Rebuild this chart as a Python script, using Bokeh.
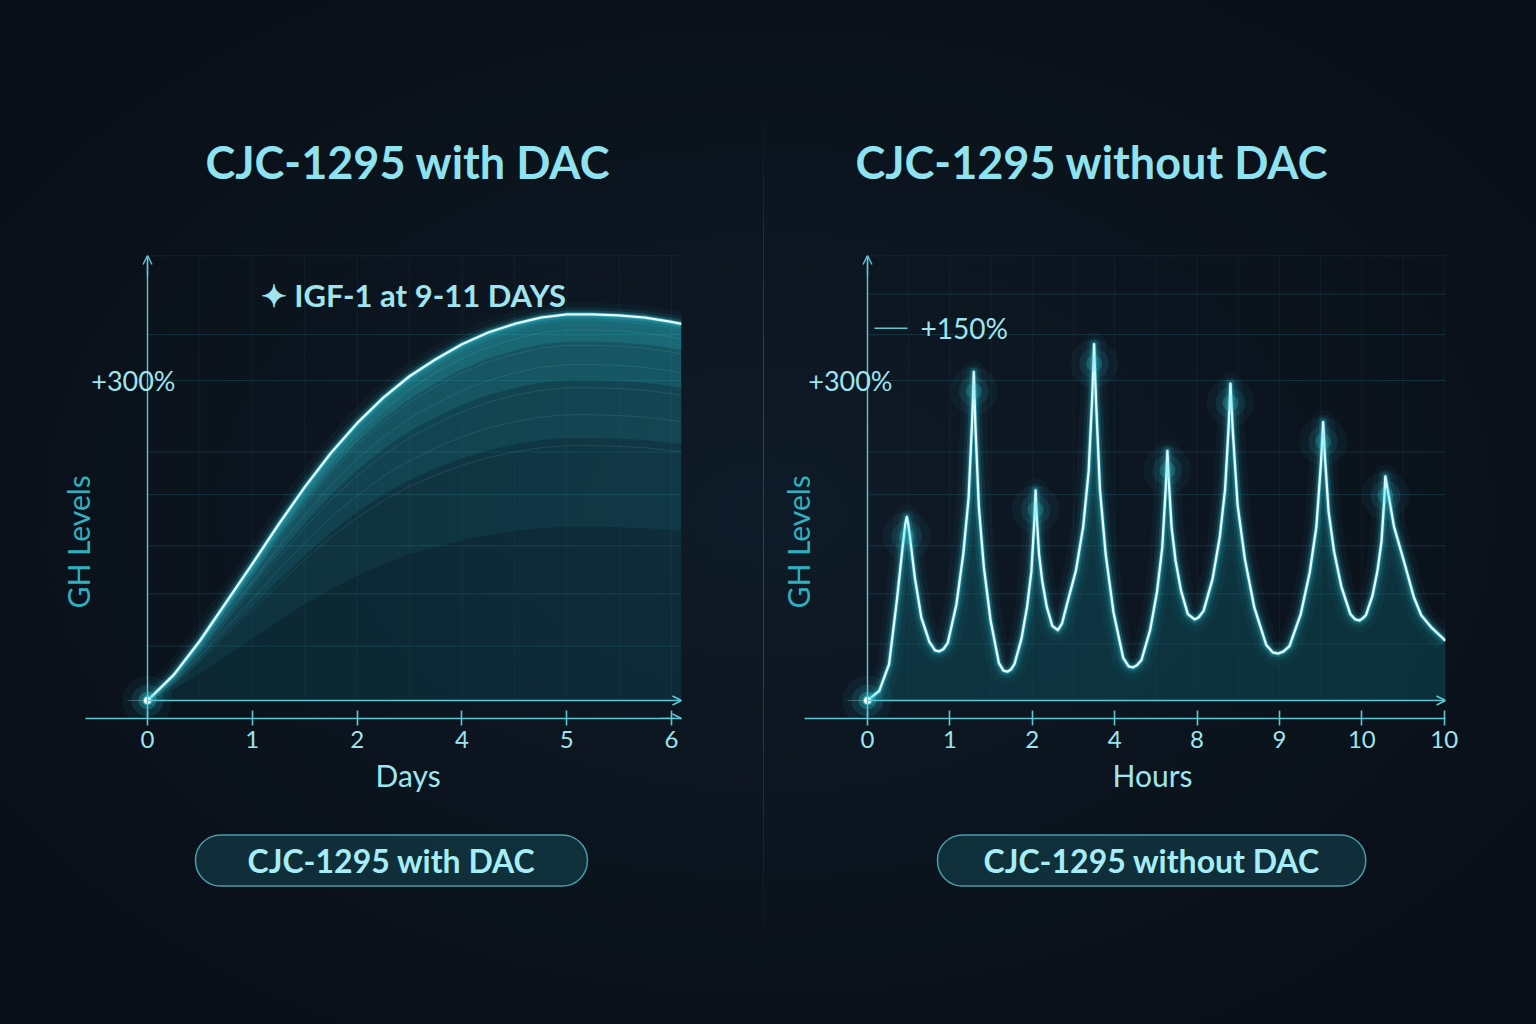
from bokeh.plotting import figure
from bokeh.models import FixedTicker, Arrow, OpenHead, Range1d, Div, Title
from bokeh.layouts import row
from bokeh.core.properties import value
from bokeh.embed import file_html
from bokeh.resources import INLINE

# ---------------- data ----------------
# Left panel: CJC-1295 with DAC (x in tick-slot units, y in % GH rise)
dac_tick_labels = ["0", "1", "2", "4", "5", "6"]
dac_x = [0, 0.25, 0.5, 0.75, 1.0, 1.25, 1.5, 1.75, 2.0, 2.25, 2.5, 2.75,
         3.0, 3.25, 3.5, 3.75, 4.0, 4.25, 4.5, 4.75, 5.0, 5.095]
dac_y = [0, 24, 56, 92, 128, 165, 200, 232, 260, 284, 304, 320,
         334, 345, 353, 359, 362, 362, 361, 359, 355, 353]

# Right panel: CJC-1295 without DAC (pulsatile)
nodac_tick_labels = ["0", "1", "2", "4", "8", "9", "10", "10"]
nodac_x = [0,
           0.143, 0.262, 0.358, 0.429, 0.458, 0.477,
           0.493, 0.516, 0.575, 0.653, 0.751, 0.82, 0.868,
           0.92, 0.974, 1.079, 1.163, 1.227, 1.269, 1.29,
           1.31, 1.351, 1.412, 1.494, 1.595, 1.65, 1.697,
           1.74, 1.783, 1.869, 1.937, 1.989, 2.023, 2.04,
           2.054, 2.081, 2.121, 2.175, 2.243, 2.31,
           2.36, 2.42, 2.53, 2.618, 2.684, 2.728, 2.75,
           2.774, 2.821, 2.891, 2.985, 3.103, 3.17, 3.22,
           3.27, 3.325, 3.43, 3.514, 3.577, 3.619, 3.64,
           3.657, 3.69, 3.739, 3.805, 3.888, 3.97,
           4.02, 4.079, 4.188, 4.275, 4.34, 4.383, 4.405,
           4.434, 4.492, 4.579, 4.695, 4.84, 4.92, 4.985,
           5.05, 5.121, 5.258, 5.367, 5.448, 5.503, 5.53,
           5.552, 5.596, 5.662, 5.75, 5.86, 5.92, 5.97,
           6.01, 6.049, 6.128, 6.19, 6.238, 6.27, 6.285,
           6.33, 6.39, 6.52, 6.63, 6.72, 6.85, 7.015]
nodac_y = [0,
           9, 34, 95, 146, 165, 172,
           166, 153, 115, 78, 55, 47, 46,
           48, 54, 90, 138, 190, 261, 308,
           257, 182, 125, 75, 35, 28, 27,
           29, 34, 58, 88, 121, 166, 197,
           173, 138, 112, 88, 70, 66,
           72, 90, 122, 163, 215, 286, 334,
           280, 198, 137, 83, 40, 32, 31,
           33, 38, 66, 102, 143, 198, 234,
           206, 163, 131, 103, 81, 76,
           78, 84, 114, 153, 198, 257, 297,
           252, 183, 133, 87, 52, 45, 44,
           46, 51, 81, 120, 163, 222, 261,
           228, 177, 140, 107, 81, 76, 75,
           77, 80, 98, 122, 149, 186, 210,
           190, 163, 128, 97, 80, 68, 56]

y_ticks = [300]
y_tick_labels = ["+300%"]
grid_levels = [51, 100, 145, 193, 233, 300, 343, 417]
grid_levels_right = [53, 100, 145, 193, 233, 300, 343, 381, 417]

# ---------------- style ----------------
FONT = "Lato"
AXIS = "#5fc6d3"
TICK_TXT = "#9fe4ef"
TITLE_TXT = "#8fe2ef"
LABEL_TXT = "#2fb0bf"
GRID = "#1d4c57"
LINE_CORE = "#e4fcff"
GLOW = "#35d3e2"
Y_START, Y_END = -16.9, 417.2


def panel(width, x_start, x_end, min_left, min_right, title, title_offset,
          xlabel, xlabel_offset, tick_labels, label_standoff, grid_y, ylabel_standoff,
          pill_text, pill_offset, pill_pad):
    p = figure(width=width, height=1024,
               x_range=Range1d(x_start, x_end), y_range=Range1d(Y_START, Y_END),
               output_backend="svg", toolbar_location=None,
               min_border_left=min_left, min_border_right=min_right,
               min_border_top=255, min_border_bottom=306)
    p.background_fill_alpha = 0
    p.border_fill_alpha = 0
    p.outline_line_color = None
    p.xgrid.visible = False
    p.ygrid.visible = False

    p.title.text = title
    p.title.align = "left"
    p.title.offset = title_offset
    p.title.text_font = FONT
    p.title.text_font_style = "bold"
    p.title.text_font_size = "45px"
    p.title.text_color = TITLE_TXT
    p.title.standoff = 134

    xa = p.xaxis[0]
    xa.ticker = FixedTicker(ticks=list(range(len(tick_labels))))
    xa.major_label_overrides = {i: t for i, t in enumerate(tick_labels)}
    xa.axis_line_color = AXIS
    xa.axis_line_width = 1.6
    xa.major_tick_line_color = AXIS
    xa.major_tick_line_width = 1.6
    xa.major_tick_in = 8
    xa.major_tick_out = 7
    xa.minor_tick_line_color = None
    xa.major_label_text_font = FONT
    xa.major_label_text_font_size = "24px"
    xa.major_label_text_color = TICK_TXT
    xa.major_label_standoff = 5

    # x-axis caption (positioned under the tick labels)
    xlab = Title(text=xlabel, align="left", offset=xlabel_offset, standoff=8,
                 text_font=FONT, text_font_style="normal", text_font_size="30px",
                 text_color=TICK_TXT)
    p.add_layout(xlab, "below")

    ya = p.yaxis[0]
    ya.fixed_location = 0
    ya.ticker = FixedTicker(ticks=y_ticks)
    ya.major_label_overrides = dict(zip(y_ticks, y_tick_labels))
    ya.axis_line_color = AXIS
    ya.axis_line_width = 1.4
    ya.major_tick_in = 0
    ya.major_tick_out = 0
    ya.minor_tick_line_color = None
    ya.major_label_text_font = FONT
    ya.major_label_text_font_size = "27px"
    ya.major_label_text_color = TICK_TXT
    ya.major_label_standoff = label_standoff

    # y-axis caption, placed along the left edge
    ylab = Title(text="GH Levels", align="left", offset=110, standoff=ylabel_standoff,
                 text_font=FONT, text_font_style="normal", text_font_size="30px",
                 text_color=LABEL_TXT)
    p.add_layout(ylab, "left")

    # pill caption under the chart
    pill = Title(text=pill_text, align="left", offset=pill_offset, standoff=73,
                 text_font=FONT, text_font_style="bold", text_font_size="32px",
                 text_color="#a6edf7", background_fill_color="#10303c",
                 background_fill_alpha=0.95, border_line_color="#4b9aa8",
                 border_line_width=1.5, border_radius=25,
                 padding=dict(left=pill_pad, right=pill_pad, top=6, bottom=6))
    p.add_layout(pill, "below")

    n = len(grid_y)
    p.segment(x0=[0] * n, y0=grid_y, x1=[x_end] * n, y1=grid_y,
              line_color=GRID, line_width=1, line_alpha=0.55)
    vx = [i * 0.5 for i in range(1, int(x_end * 2) + 1)]
    p.segment(x0=vx, y0=[0] * len(vx), x1=vx, y1=[Y_END] * len(vx),
              line_color=GRID, line_width=1, line_alpha=0.22)

    p.add_layout(Arrow(end=OpenHead(size=9, line_color=AXIS, line_width=1.6),
                       x_start=0, y_start=0, x_end=x_end, y_end=0,
                       line_color=AXIS, line_width=1.6))
    p.add_layout(Arrow(end=OpenHead(size=9, line_color=AXIS, line_width=1.4),
                       x_start=0, y_start=Y_END - 20, x_end=0, y_end=Y_END,
                       line_color=AXIS, line_width=1.4))
    return p


def glow_line(p, xs, ys):
    for w, a in [(24, 0.04), (14, 0.08), (8, 0.18), (4, 0.45)]:
        p.line(xs, ys, line_color=GLOW, line_width=w, line_alpha=a, line_join="round")
    p.line(xs, ys, line_color=LINE_CORE, line_width=2.3, line_join="round")


def origin_glow(p):
    for s, a in [(50, 0.06), (32, 0.12), (18, 0.28), (10, 0.6)]:
        p.scatter([0], [0], size=s, fill_color=GLOW, fill_alpha=a, line_color=None)
    p.scatter([0], [0], marker="cross", size=40, line_color="#c9f8ff", line_alpha=0.3, line_width=1)
    p.scatter([0], [0], size=7, fill_color="white", line_color=None)


# ---------------- left panel ----------------
left = panel(763, -0.5916, 5.095, 85, 82, "CJC-1295 with DAC", 120,
             "Days", 290, dac_tick_labels, -28, grid_levels, -20,
             "CJC-1295 with DAC", 110, 52)
left.varea(x=dac_x, y1=[0] * len(dac_x), y2=dac_y, fill_color="#0f7886", fill_alpha=0.2)
for k, a in [(0.45, 0.08), (0.68, 0.11), (0.83, 0.14), (0.93, 0.18)]:
    left.varea(x=dac_x, y1=[v * k for v in dac_y], y2=dac_y, fill_color="#2fc2cf", fill_alpha=a)
contours = [0.96, 0.92, 0.87, 0.81, 0.74, 0.66]
left.multi_line(xs=[dac_x] * len(contours), ys=[[v * k for v in dac_y] for k in contours],
                line_color="#8ee9f2", line_alpha=0.12, line_width=1)
glow_line(left, dac_x, dac_y)
origin_glow(left)
left.add_layout(Arrow(end=OpenHead(size=9, line_color=AXIS, line_width=1.6),
                      x_start=4.9, y_start=Y_START, x_end=5.095, y_end=Y_START,
                      line_color=AXIS, line_width=1.6))
left.text(x=[1.08], y=[380.6], text=["\u2726 IGF-1 at 9-11 DAYS"], text_font=value(FONT),
          text_font_style="bold", text_font_size="31px", text_color=TICK_TXT,
          text_align="left", text_baseline="middle")

# ---------------- right panel ----------------
right = panel(772, -0.7646, 7.015, 40, 91, "CJC-1295 without DAC", 51,
              "Hours", 308, nodac_tick_labels, -25, grid_levels_right, -22,
              "CJC-1295 without DAC", 133, 46)
right.varea(x=nodac_x, y1=[0] * len(nodac_x), y2=nodac_y, fill_color="#0f5e69", fill_alpha=0.42)
glow_line(right, nodac_x, nodac_y)
peaks_x = [nodac_x[i] for i in range(1, len(nodac_y) - 1)
           if nodac_y[i] > nodac_y[i - 1] and nodac_y[i] > nodac_y[i + 1]]
peaks_y = [nodac_y[i] for i in range(1, len(nodac_y) - 1)
           if nodac_y[i] > nodac_y[i - 1] and nodac_y[i] > nodac_y[i + 1]]
for s, a in [(48, 0.05), (30, 0.09), (16, 0.2)]:
    right.scatter(peaks_x, [v - 18 for v in peaks_y], size=s, fill_color=GLOW, fill_alpha=a, line_color=None)
origin_glow(right)
right.segment(x0=[0.085], y0=[349], x1=[0.485], y1=[349], line_color=AXIS, line_width=1.5)
right.text(x=[0.643], y=[349], text=["+150%"], text_font=value(FONT),
           text_font_size="28px", text_color=TICK_TXT, text_align="left", text_baseline="middle")

divider = Div(text="", width=1, height=1024, margin=(0, 0, 0, 0),
              styles={"background": "linear-gradient(to bottom, rgba(60,80,100,0) 10%, "
                                    "#2c3e52 35%, #2c3e52 65%, rgba(60,80,100,0) 93%)"})

page = row(left, divider, right, spacing=0,
           styles={"background": "radial-gradient(ellipse at 50% 50%, #0f1b28 0%, #0b131d 55%, #080d16 100%)"})

open("out.html", "w").write(file_html(page, INLINE))
